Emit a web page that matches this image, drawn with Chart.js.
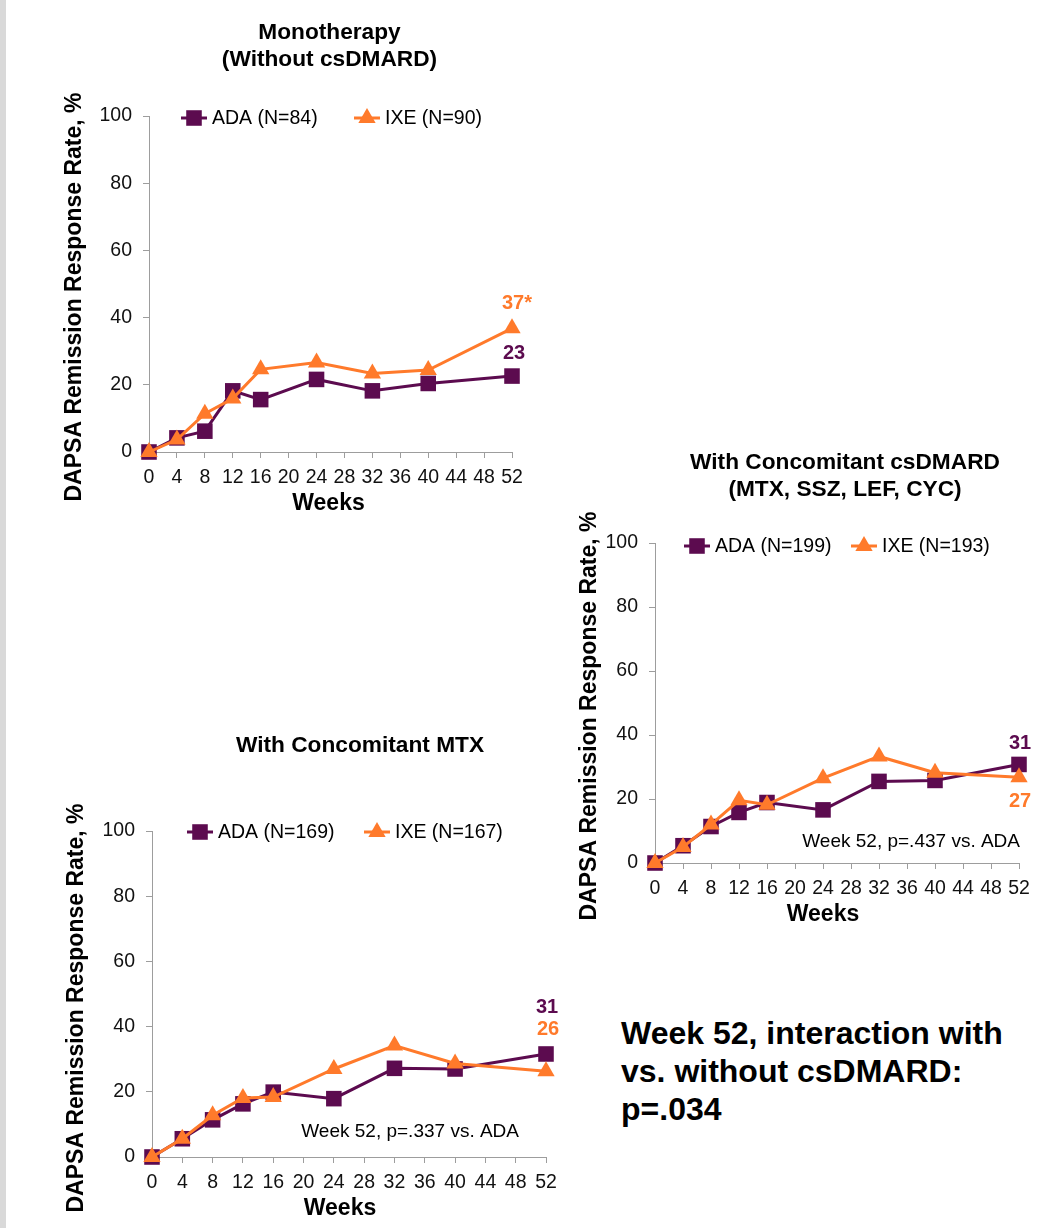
<!DOCTYPE html>
<html>
<head>
<meta charset="utf-8">
<title>DAPSA remission by background csDMARD</title>
<script src="https://cdn.jsdelivr.net/npm/chart.js@4.4.0/dist/chart.umd.min.js"></script>
<style>
  html, body { margin: 0; padding: 0; background: #fff; }
  body { width: 1039px; height: 1228px; position: relative; overflow: hidden;
         font-family: 'Liberation Sans', Arial, sans-serif; }
  .strip { position: absolute; left: 0; top: 0; width: 6px; height: 1228px; background: #d9d9d9; }
  canvas { position: absolute; }
  #mono { left: 0; top: 0; width: 560px; height: 530px; }
  #csd { left: 560px; top: 430px; width: 479px; height: 510px; }
  #mtx { left: 0; top: 700px; width: 580px; height: 528px; }
  .interaction { position: absolute; left: 621px; top: 1014px; font-weight: bold;
                 font-size: 32px; line-height: 38px; color: #000; }
</style>
</head>
<body>
<div class="strip"></div>
<canvas id="mono" width="560" height="530"></canvas>
<canvas id="csd" width="479" height="510"></canvas>
<canvas id="mtx" width="580" height="528"></canvas>
<div class="interaction">Week 52, interaction with<br>vs. without csDMARD:<br>p=.034</div>
<script>
// weeks of assessment, shared by all three panels
const weeks = [0, 4, 8, 12, 16, 24, 32, 40, 52];

// Monotherapy (without csDMARD)
const monoAda = [0, 4.2, 6.2, 18.2, 15.6, 21.6, 18.2, 20.4, 22.6];
const monoIxe = [0, 3.7, 11.4, 15.9, 24.6, 26.6, 23.4, 24.4, 36.8];
const monoNames = ['ADA (N=84)', 'IXE (N=90)'];
const monoEnd = ['23', '37*'];

// With concomitant csDMARD
const csdAda = [0, 5.4, 11.4, 15.8, 18.9, 16.6, 25.5, 25.8, 30.8];
const csdIxe = [0, 5.0, 12.0, 19.6, 18.2, 26.5, 33.3, 28.2, 26.8];
const csdNames = ['ADA (N=199)', 'IXE (N=193)'];
const csdEnd = ['31', '27'];

// With concomitant MTX
const mtxAda = [0, 5.6, 11.4, 16.3, 19.9, 17.9, 27.2, 27.0, 31.6];
const mtxIxe = [0, 5.6, 12.8, 18.1, 18.4, 27.0, 34.2, 28.7, 26.3];
const mtxNames = ['ADA (N=169)', 'IXE (N=167)'];
const mtxEnd = ['31', '26'];

const FONT = "'Liberation Sans', Arial, sans-serif";
const PURPLE = '#5c0b4f';
const ORANGE = '#ff7a2b';
const AXIS = '#9d9d9d';
const Y_TITLE = 'DAPSA Remission Response Rate, %';

Chart.defaults.font.family = FONT;
Chart.defaults.color = '#111';

function marker(ctx, style, radius, x, y, color) {
    ctx.fillStyle = color;
    if (Chart.helpers && Chart.helpers.drawPoint) {
        Chart.helpers.drawPoint(ctx, { pointStyle: style, radius: radius, rotation: 0, borderWidth: 0 }, x, y);
        return;
    }
    ctx.beginPath();
    if (style === 'rect') {
        const s = radius * Math.SQRT1_2;
        ctx.rect(x - s, y - s, 2 * s, 2 * s);
    } else {
        ctx.moveTo(x, y - radius);
        ctx.lineTo(x + radius * 0.866, y + radius * 0.5);
        ctx.lineTo(x - radius * 0.866, y + radius * 0.5);
        ctx.closePath();
    }
    ctx.fill();
}

// titles, legend, end values and notes, placed relative to the chart area
const decor = {
    id: 'decor',
    afterDraw(chart, args, o) {
        const { ctx, chartArea: a } = chart;
        const cx = (a.left + a.right) / 2;
        const cy = (a.top + a.bottom) / 2;
        ctx.save();
        ctx.textBaseline = 'middle';
        ctx.fillStyle = '#000';

        ctx.font = 'bold 22.7px ' + FONT;
        ctx.textAlign = 'center';
        o.title.lines.forEach((t, i) => {
            ctx.fillText(t, cx + o.title.dx, a.top + o.title.dy + i * 27);
        });
        ctx.font = 'bold 23px ' + FONT;
        ctx.fillText('Weeks', cx + o.xTitle.dx, a.bottom + o.xTitle.dy);

        ctx.save();
        ctx.font = 'bold 23px ' + FONT;
        ctx.translate(a.left + o.yTitle.dx, cy + o.yTitle.dy);
        ctx.rotate(-Math.PI / 2);
        ctx.fillText(Y_TITLE, 0, 0);
        ctx.restore();

        // legend: line segment with marker, then the label
        ctx.font = '19.5px ' + FONT;
        ctx.textAlign = 'left';
        chart.data.datasets.forEach((ds, i) => {
            const x = a.left + o.legend.x[i];
            const y = a.top + o.legend.dy;
            ctx.strokeStyle = ds.borderColor;
            ctx.lineWidth = 3;
            ctx.beginPath();
            ctx.moveTo(x, y);
            ctx.lineTo(x + 26, y);
            ctx.stroke();
            marker(ctx, ds.pointStyle, ds.pointRadius, x + 13, y, ds.backgroundColor);
            ctx.fillStyle = '#000';
            ctx.fillText(ds.label, x + 31, y + 1);
        });

        // values at week 52
        ctx.font = 'bold 20px ' + FONT;
        ctx.textAlign = 'center';
        chart.data.datasets.forEach((ds, i) => {
            const pts = chart.getDatasetMeta(i).data;
            const p = pts[pts.length - 1];
            ctx.fillStyle = ds.borderColor;
            ctx.fillText(o.endText[i], p.x + o.endOffset[i][0], p.y + o.endOffset[i][1]);
        });

        if (o.note) {
            ctx.font = '19px ' + FONT;
            ctx.textAlign = 'right';
            ctx.fillStyle = '#000';
            ctx.fillText(o.note.text, a.right + o.note.dx, a.bottom + o.note.dy);
        }
        ctx.restore();
    }
};

function series(values) {
    return weeks.map((w, i) => ({ x: w, y: values[i] }));
}

function makeChart(id, ada, ixe, names, look) {
    return new Chart(document.getElementById(id), {
        type: 'line',
        data: {
            datasets: [
                {
                    label: names[0], data: series(ada),
                    borderColor: PURPLE, backgroundColor: PURPLE,
                    pointStyle: 'rect', pointRadius: 11, pointHoverRadius: 11,
                    borderWidth: 3, pointBorderWidth: 0, tension: 0, order: 1, clip: false
                },
                {
                    label: names[1], data: series(ixe),
                    borderColor: ORANGE, backgroundColor: ORANGE,
                    pointStyle: 'triangle', pointRadius: 10, pointHoverRadius: 10,
                    borderWidth: 3, pointBorderWidth: 0, tension: 0, order: 0, clip: false
                }
            ]
        },
        options: {
            responsive: false,
            animation: false,
            events: [],
            layout: { padding: { left: 0, top: look.padTop, right: look.padRight, bottom: 0 } },
            plugins: {
                legend: { display: false },
                tooltip: { enabled: false },
                decor: look.decor
            },
            scales: {
                x: {
                    type: 'linear', min: 0, max: 52,
                    afterFit: (s) => { s.height = look.xHeight; },
                    ticks: { stepSize: 4, padding: 8, maxRotation: 0, autoSkip: false, font: { size: 19.5 } },
                    grid: { drawOnChartArea: false, tickLength: 6, color: AXIS },
                    border: { color: AXIS, width: 1 }
                },
                y: {
                    min: 0, max: 100,
                    afterFit: (s) => { s.width = look.yWidth; },
                    ticks: { stepSize: 20, padding: 11, font: { size: 19.5 } },
                    grid: { drawOnChartArea: false, tickLength: 6, color: AXIS },
                    border: { color: AXIS, width: 1 }
                }
            }
        },
        plugins: [decor]
    });
}

makeChart('mono', monoAda, monoIxe, monoNames, {
    padTop: 116, padRight: 48, xHeight: 78, yWidth: 149,
    decor: {
        title: { lines: ['Monotherapy', '(Without csDMARD)'], dx: -1, dy: -83 },
        xTitle: { dx: -2, dy: 52 },
        yTitle: { dx: -74, dy: 13 },
        legend: { x: [32, 205], dy: 2 },
        endText: monoEnd,
        endOffset: [[2, -23], [5, -25]]
    }
});

makeChart('csd', csdAda, csdIxe, csdNames, {
    padTop: 113, padRight: 20, xHeight: 77, yWidth: 95,
    decor: {
        title: { lines: ['With Concomitant csDMARD', '(MTX, SSZ, LEF, CYC)'], dx: 8, dy: -80 },
        xTitle: { dx: -14, dy: 52 },
        yTitle: { dx: -65, dy: 13 },
        legend: { x: [29, 196], dy: 3 },
        endText: csdEnd,
        endOffset: [[1, -21], [1, 24]],
        note: { text: 'Week 52, p=.437 vs. ADA', dx: 1, dy: -21 }
    }
});

makeChart('mtx', mtxAda, mtxIxe, mtxNames, {
    padTop: 131, padRight: 34, xHeight: 71, yWidth: 152,
    decor: {
        title: { lines: ['With Concomitant MTX'], dx: 11, dy: -85 },
        xTitle: { dx: -9, dy: 52 },
        yTitle: { dx: -75, dy: 14 },
        legend: { x: [35, 212], dy: 1 },
        endText: mtxEnd,
        endOffset: [[1, -46], [2, -42]],
        note: { text: 'Week 52, p=.337 vs. ADA', dx: -27, dy: -25 }
    }
});
</script>
</body>
</html>
